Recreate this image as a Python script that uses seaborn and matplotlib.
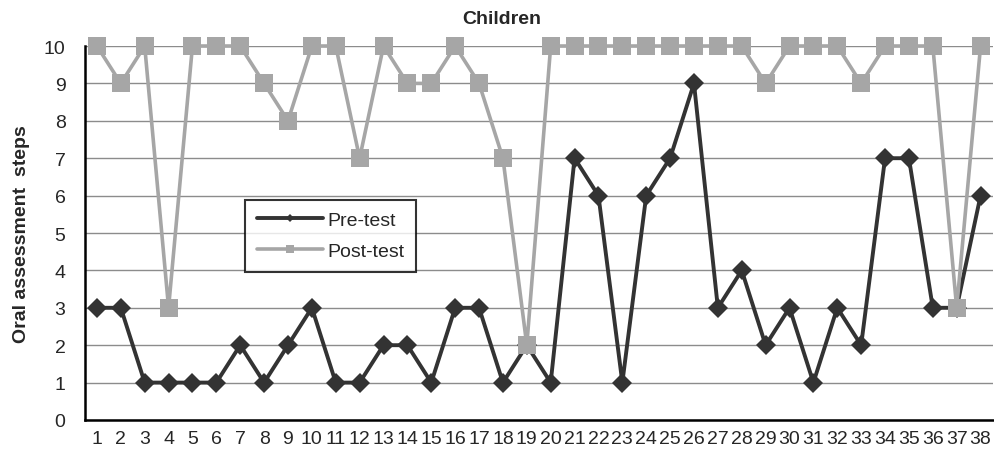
import pandas as pd
import matplotlib.pyplot as plt
import seaborn as sns

children = list(range(1, 39))
pre_test = [3, 3, 1, 1, 1, 1, 2, 1, 2, 3, 1, 1, 2, 2, 1, 3, 3, 1, 2, 1,
            7, 6, 1, 6, 7, 9, 3, 4, 2, 3, 1, 3, 2, 7, 7, 3, 3, 6]
post_test = [10, 9, 10, 3, 10, 10, 10, 9, 8, 10, 10, 7, 10, 9, 9, 10, 9, 7, 2, 10,
             10, 10, 10, 10, 10, 10, 10, 10, 9, 10, 10, 10, 9, 10, 10, 10, 3, 10]

df_pre = pd.DataFrame({'child': children, 'score': pre_test})
df_post = pd.DataFrame({'child': children, 'score': post_test})

sns.set_style('white')
plt.rcParams['font.family'] = ['Liberation Sans', 'DejaVu Sans']

fig = plt.figure(figsize=(9.94, 4.52), dpi=100)
ax = fig.add_axes([0.0855, 0.0686, 0.913, 0.8274])

sns.lineplot(x='child', y='score', data=df_pre, ax=ax, color='#333333',
             marker='D', markersize=10, markeredgewidth=0, linewidth=2.8,
             label='Pre-test', clip_on=False, zorder=3)
# post-test drawn on top, as in the original
sns.lineplot(x='child', y='score', data=df_post, ax=ax, color='#a6a6a6',
             marker='s', markersize=12.5, markeredgewidth=0, linewidth=2.6,
             label='Post-test', clip_on=False, zorder=4)

ax.set_xlim(0.5, 38.5)
ax.set_ylim(0, 10)
ax.set_xticks(children)
ax.set_yticks(range(0, 11))
ax.tick_params(axis='x', length=0, labelsize=14, pad=7)
ax.tick_params(axis='y', length=0, labelsize=14, pad=14)
ax.yaxis.grid(True, color='#8c8c8c', linewidth=1)
ax.set_axisbelow(True)

for side in ['top', 'right']:
    ax.spines[side].set_visible(False)
for side in ['left', 'bottom']:
    ax.spines[side].set_color('black')
    ax.spines[side].set_linewidth(1.8)

ax.set_xlabel('')
ax.set_ylabel('Oral assessment  steps', fontsize=14, fontweight='bold', labelpad=10)
fig.text(0.505, 0.956, 'Children', ha='center', va='center', fontsize=14, fontweight='bold')

leg = ax.legend(loc='upper left', bbox_to_anchor=(0.166, 0.615),
                fontsize=14, frameon=True, fancybox=False, edgecolor='black',
                handlelength=3.4, borderpad=0.6, labelspacing=0.7, handletextpad=0.2,
                markerscale=0.45)
leg.get_frame().set_linewidth(1.5)

fig.savefig('out.png', dpi=100)
